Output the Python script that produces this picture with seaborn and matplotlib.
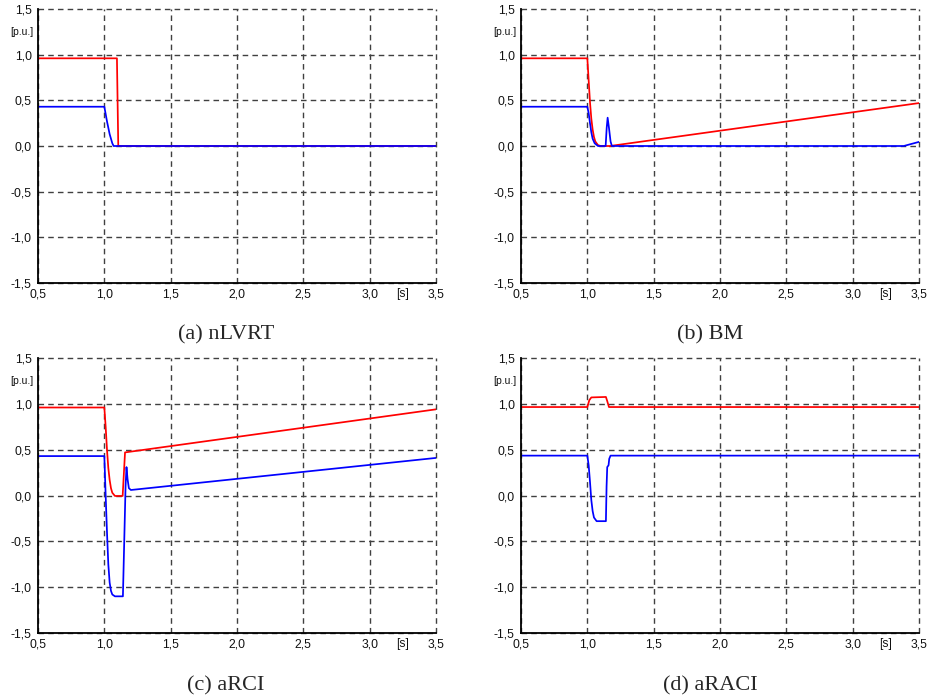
import numpy as np
import pandas as pd
import matplotlib
matplotlib.use("Agg")
import matplotlib.pyplot as plt
import matplotlib.transforms as mtransforms
from matplotlib.ticker import MultipleLocator, FuncFormatter
import seaborn as sns

# ---------------- data ----------------
# (a) nLVRT
a_red_t = [0.5, 1.095, 1.105, 3.5]
a_red_v = [0.96, 0.96, 0.0, 0.0]
a_blue_t = [0.5, 1.0, 1.02, 1.04, 1.06, 1.07, 3.5]
a_blue_v = [0.43, 0.43, 0.27, 0.13, 0.03, 0.0, 0.0]

# (b) BM
b_red_t = [0.5, 1.0, 1.01, 1.02, 1.03, 1.04, 1.05, 1.06, 1.08, 1.10, 1.17, 3.5]
b_red_v = [0.96, 0.96, 0.72, 0.48, 0.3, 0.18, 0.1, 0.05, 0.01, 0.0, 0.0, 0.47]
b_blue_t = [0.5, 1.0, 1.01, 1.02, 1.03, 1.04, 1.055, 1.08, 1.138, 1.146, 1.153,
            1.163, 1.175, 1.185, 3.385, 3.5]
b_blue_v = [0.43, 0.43, 0.36, 0.25, 0.15, 0.08, 0.03, 0.0, 0.0, 0.2, 0.31,
            0.2, 0.05, 0.0, 0.0, 0.045]

# (c) aRCI
c_red_t = [0.5, 1.0, 1.01, 1.02, 1.03, 1.04, 1.05, 1.06, 1.08, 1.138, 1.156, 3.5]
c_red_v = [0.96, 0.96, 0.75, 0.5, 0.3, 0.17, 0.08, 0.03, -0.005, -0.005, 0.47, 0.94]
c_blue_t = [0.5, 1.0, 1.01, 1.02, 1.03, 1.04, 1.05, 1.06, 1.08, 1.14, 1.15, 1.16,
            1.167, 1.175, 1.185, 1.2, 3.5]
c_blue_v = [0.43, 0.43, 0.0, -0.4, -0.75, -0.95, -1.04, -1.08, -1.1, -1.1, -0.5,
            0.1, 0.31, 0.18, 0.08, 0.06, 0.41]

# (d) aRACI
d_red_t = [0.5, 1.0, 1.015, 1.03, 1.14, 1.15, 1.163, 3.5]
d_red_v = [0.965, 0.965, 1.04, 1.07, 1.075, 1.03, 0.965, 0.965]
d_blue_t = [0.5, 1.0, 1.01, 1.02, 1.03, 1.04, 1.05, 1.07, 1.14, 1.145, 1.15, 1.16,
            1.165, 1.175, 3.5]
d_blue_v = [0.435, 0.435, 0.33, 0.15, -0.05, -0.17, -0.24, -0.28, -0.28, 0.1, 0.31,
            0.33, 0.4, 0.435, 0.435]

captions = ["(a) nLVRT", "(b) BM", "(c) aRCI", "(d) aRACI"]
panels = [
    (a_red_t, a_red_v, a_blue_t, a_blue_v),
    (b_red_t, b_red_v, b_blue_t, b_blue_v),
    (c_red_t, c_red_v, c_blue_t, c_blue_v),
    (d_red_t, d_red_v, d_blue_t, d_blue_v),
]

# ---------------- style ----------------
sns.set_style("white")
plt.rcParams['font.family'] = ['Liberation Sans', 'DejaVu Sans']

W, H = 927, 700
fig = plt.figure(figsize=(W / 100, H / 100), dpi=100)

# axes pixel boxes: left, top, right, bottom
boxes = [(38, 9, 436, 283), (521, 9, 919, 283),
         (38, 358, 436, 633), (521, 358, 919, 633)]
cap_pos = [(226, 335), (710, 335), (226, 686), (710, 686)]

fmt = FuncFormatter(lambda v, p: f"{v:.1f}".replace(".", ","))

for (l, t, r, b), (rt, rv, bt, bv), cap, (cx, cy) in zip(boxes, panels, captions, cap_pos):
    ax = fig.add_axes([l / W, 1 - b / H, (r - l) / W, (b - t) / H])
    dfr = pd.DataFrame({"t": rt, "v": rv})
    dfb = pd.DataFrame({"t": bt, "v": bv})
    sns.lineplot(data=dfr, x="t", y="v", ax=ax, color="#ff0000", lw=1.25,
                 estimator=None, sort=False, zorder=3)
    sns.lineplot(data=dfb, x="t", y="v", ax=ax, color="#0000ff", lw=1.25,
                 estimator=None, sort=False, zorder=4)
    ax.set_xlim(0.5, 3.5)
    ax.set_ylim(-1.5, 1.5)
    ax.set_xlabel("")
    ax.set_ylabel("")
    ax.xaxis.set_major_locator(MultipleLocator(0.5))
    ax.yaxis.set_major_locator(MultipleLocator(0.5))
    ax.xaxis.set_minor_locator(MultipleLocator(0.25))
    ax.yaxis.set_minor_locator(MultipleLocator(0.25))
    ax.xaxis.set_major_formatter(fmt)
    ax.yaxis.set_major_formatter(fmt)
    ax.grid(True, which="major", color="#404040", lw=1.0, linestyle=(0, (4, 3)), zorder=1)
    for gl in ax.get_xgridlines() + ax.get_ygridlines():
        gl.set_clip_on(False)
    for s in ["top", "right"]:
        ax.spines[s].set_visible(False)
    for s in ["left", "bottom"]:
        ax.spines[s].set_color("black")
        ax.spines[s].set_linewidth(1.3)
        ax.spines[s].set_zorder(5)
    ax.tick_params(which="both", direction="in", length=3, width=0.8, color="black",
                   labelsize=8.7, labelcolor="#111111")
    ax.tick_params(axis="x", which="major", pad=4)
    ax.tick_params(axis="y", which="major", pad=4.5)
    ax.set_facecolor("white")
    # unit labels
    trans_y = mtransforms.blended_transform_factory(ax.transAxes, ax.transData)
    ax.text(-0.012, 1.25, "[p.u.]", transform=trans_y, ha="right", va="center",
            fontsize=7.5, color="#111111")
    trans_x = mtransforms.blended_transform_factory(ax.transData, ax.transAxes)
    ax.text(3.25, -0.02, "[s]", transform=trans_x, ha="center", va="top",
            fontsize=8.7, color="#111111")
    fig.text(cx / W, 1 - cy / H, cap, ha="center", va="center",
             fontsize=16, family=["Liberation Serif", "DejaVu Serif"])

fig.savefig("out.png", dpi=100, facecolor="white")
